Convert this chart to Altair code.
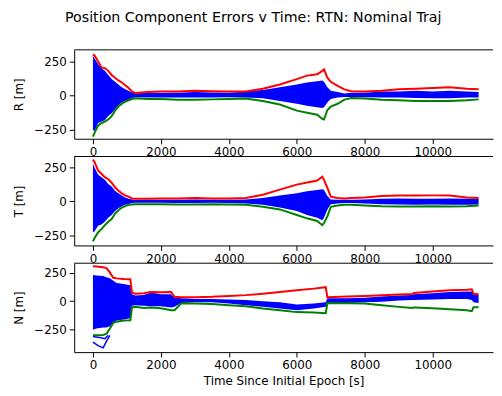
import altair as alt
import pandas as pd

# ---- data ----
tR = [0, 50, 150, 250, 350, 450, 550, 650, 750, 850, 950, 1050, 1150, 1250, 1600, 2000, 2500, 3000, 3500,
      4000, 4500, 5000, 5500, 6000, 6300, 6600, 6750, 6800, 6900, 7000, 7200, 7400, 7600, 8000, 8500, 9000,
      9500, 10000, 10500, 11000, 11350]
R_red = [300, 290, 250, 205, 200, 180, 150, 130, 110, 95, 75, 55, 30, 18, 25, 30, 30, 35, 32, 30, 30, 50, 80,
         120, 145, 155, 180, 190, 130, 100, 70, 45, 32, 30, 35, 45, 50, 55, 60, 50, 45]
R_green = [-300, -270, -220, -200, -190, -175, -150, -110, -80, -60, -45, -35, -25, -20, -25, -25, -30, -30, -28,
           -25, -22, -40, -65, -110, -125, -140, -170, -175, -105, -80, -60, -30, -18, -22, -30, -35, -40, -40,
           -40, -35, -28]
R_hi = [290, 270, 230, 200, 180, 150, 120, 100, 80, 60, 45, 35, 22, 15, 20, 18, 20, 25, 22, 20, 30, 40, 60, 80,
        95, 105, 110, 100, 60, 35, 25, 15, 20, 20, 30, 30, 35, 30, 35, 30, 25]
R_lo = [-250, -260, -200, -190, -180, -150, -130, -100, -70, -50, -40, -30, -18, -12, -15, -15, -15, -15, -15,
        -12, -15, -20, -40, -60, -75, -85, -90, -85, -50, -25, -15, -10, -10, -12, -15, -15, -18, -20, -20, -15, -15]

tT = tR
T_red = [310, 290, 230, 205, 180, 165, 140, 105, 80, 60, 45, 35, 22, 20, 20, 22, 22, 25, 22, 22, 25, 50, 88,
         125, 140, 155, 184, 160, 100, 35, 25, 22, 25, 30, 40, 44, 44, 45, 44, 30, 25]
T_green = [-295, -270, -230, -205, -175, -150, -130, -90, -65, -45, -35, -25, -22, -20, -20, -20, -22, -22, -20,
           -22, -25, -40, -59, -100, -125, -145, -176, -160, -110, -40, -30, -25, -25, -30, -35, -37, -37, -35,
           -37, -35, -30]
T_hi = [280, 250, 200, 180, 160, 130, 110, 80, 60, 45, 30, 20, 15, 10, 12, 12, 12, 15, 12, 12, 15, 25, 45, 60,
        75, 85, 90, 85, 40, 15, 12, 12, 12, 15, 20, 22, 20, 20, 22, 20, 18]
T_lo = [-230, -220, -180, -170, -150, -120, -100, -70, -50, -35, -25, -18, -12, -10, -10, -10, -12, -12, -10,
        -12, -15, -25, -45, -70, -100, -120, -140, -120, -60, -20, -15, -12, -12, -15, -20, -22, -25, -22, -25,
        -25, -22]

tN = [0, 100, 300, 400, 500, 600, 700, 900, 1100, 1150, 1250, 1500, 1700, 2000, 2300, 2400, 2600, 3000, 3500,
      4000, 4500, 5000, 5500, 6000, 6500, 6850, 6900, 7500, 8000, 8500, 9000, 9400, 9450, 10000, 10500, 11000,
      11150, 11200, 11350]
N_red = [307, 305, 298, 290, 250, 205, 200, 195, 193, 75, 65, 70, 80, 79, 80, 38, 35, 35, 38, 45, 53, 65, 80,
         95, 110, 123, 35, 40, 45, 52, 58, 62, 72, 85, 95, 100, 105, 65, 61]
N_green = [-298, -298, -298, -285, -240, -190, -180, -170, -167, -55, -50, -60, -55, -62, -79, -80, -18, -20, -25,
           -35, -45, -65, -80, -96, -100, -105, -18, -18, -20, -35, -50, -60, -55, -62, -70, -80, -88, -53, -53]
N_hi = [230, 225, 220, 210, 200, 180, 160, 150, 140, 60, 50, 55, 75, 60, 60, 30, 25, 20, 20, 15, 10, 0, -10, -30,
        -20, -10, 25, 25, 30, 40, 50, 55, 60, 70, 80, 85, 85, 60, 55]
N_lo = [-250, -240, -230, -230, -220, -190, -170, -160, -150, -40, -35, -40, -45, -45, -55, -50, -15, -10, -10,
        -20, -35, -50, -65, -80, -65, -50, -15, -15, -10, -5, 5, 10, 10, 15, 20, 20, 10, -10, -15]
N_out1_t = [0, 150, 300, 400, 500]
N_out1_y = [-360, -390, -410, -350, -300]
N_out2_t = [0, 200, 350, 450]
N_out2_y = [-310, -318, -330, -300]

x_ticks = [0, 2000, 4000, 6000, 8000, 10000]
y_ticks = [-250, 0, 250]
titles = ["R [m]", "T [m]", "N [m]"]
y_domains = [[-315, 333], [-326, 333], [-447, 333]]
x_domain = [-552, 11774]

W, H = 424, 90
FONT = "DejaVu Sans"


def panel(t, red, green, hi, lo, ytitle, ydom, bottom, extra=None):
    df = pd.DataFrame({"t": t, "red": red, "green": green, "hi": hi, "lo": lo})
    xaxis = alt.Axis(values=x_ticks, format="d", grid=False,
                     title="Time Since Initial Epoch [s]" if bottom else None)
    x = alt.X("t:Q", scale=alt.Scale(domain=x_domain, nice=False, zero=False), axis=xaxis)
    yscale = alt.Scale(domain=ydom, nice=False, zero=False)
    yaxis = alt.Axis(values=y_ticks, grid=False, title=ytitle)
    base = alt.Chart(df)
    area = base.mark_area(color="#0000ff", opacity=1, clip=True).encode(
        x=x, y=alt.Y("hi:Q", scale=yscale, axis=yaxis), y2="lo:Q")
    layers = [area]
    if extra:
        for (et, ey) in extra:
            edf = pd.DataFrame({"t": et, "v": ey})
            layers.append(alt.Chart(edf).mark_line(color="#0000ff", strokeWidth=1.5, clip=True).encode(
                x=x, y=alt.Y("v:Q", scale=yscale, axis=yaxis)))
    red_l = base.mark_line(color="#ff0000", strokeWidth=2, clip=True).encode(
        x=x, y=alt.Y("red:Q", scale=yscale, axis=yaxis))
    green_l = base.mark_line(color="#008000", strokeWidth=2, clip=True).encode(
        x=x, y=alt.Y("green:Q", scale=yscale, axis=yaxis))
    spine = alt.Chart(pd.DataFrame({"a": [0]})).mark_rule(color="black", strokeWidth=1).encode(
        x=alt.value(0), x2=alt.value(W), y=alt.value(0))
    layers += [red_l, green_l, spine]
    return alt.layer(*layers).properties(width=W, height=H)


p1 = panel(tR, R_red, R_green, R_hi, R_lo, titles[0], y_domains[0], False)
p2 = panel(tT, T_red, T_green, T_hi, T_lo, titles[1], y_domains[1], False)
p3 = panel(tN, N_red, N_green, N_hi, N_lo, titles[2], y_domains[2], True,
           extra=[(N_out1_t, N_out1_y), (N_out2_t, N_out2_y)])

chart = alt.vconcat(p1, p2, p3, spacing=18, bounds="flush").properties(
    title=alt.TitleParams("Position Component Errors v Time: RTN: Nominal Traj", anchor="middle",
                          fontSize=14.4, font=FONT, fontWeight="normal", color="black", offset=24),
    padding={"left": 5, "top": 0, "right": 0, "bottom": 2},
).configure_view(stroke=None).configure_axis(
    labelFont=FONT, titleFont=FONT, labelFontSize=12, titleFontSize=12, titleFontWeight="normal",
    labelColor="black", titleColor="black", domainColor="black", tickColor="black",
    domainWidth=1, tickWidth=1, tickSize=5, labelPadding=3, titlePadding=8,
).configure_axisX(titlePadding=5)

chart.save("out.html", embed_options={"renderer": "svg", "actions": False})
